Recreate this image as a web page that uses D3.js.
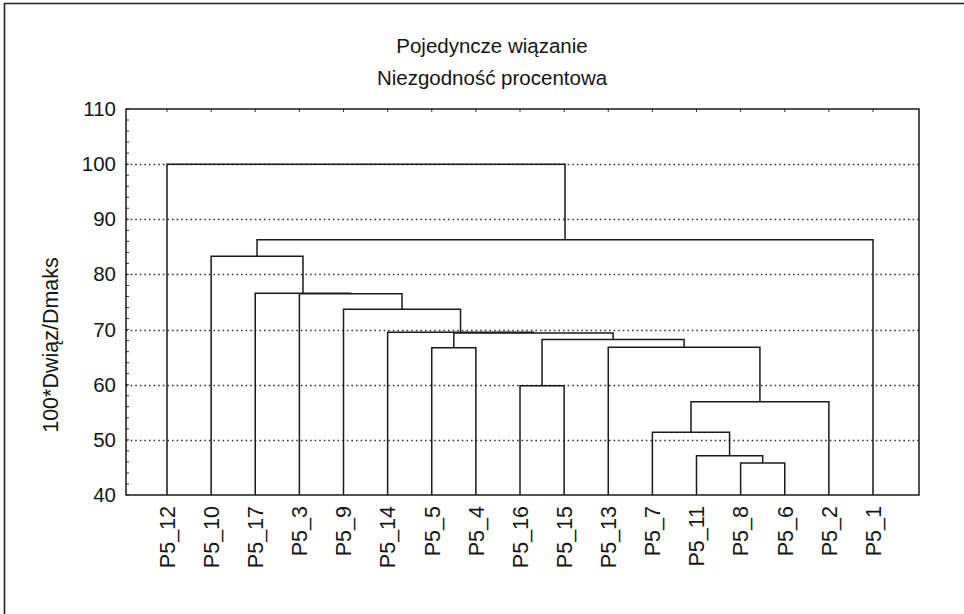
<!DOCTYPE html>
<html>
<head>
<meta charset="utf-8">
<script src="https://cdn.jsdelivr.net/npm/d3@7"></script>
<style>
  html, body { margin: 0; padding: 0; background: #fff; }
  svg { display: block; }
  text { font-family: "Liberation Sans", Arial, sans-serif; fill: #151515; }
</style>
</head>
<body>
<svg id="chart" width="964" height="614"></svg>
<script>
// Leaf order along the horizontal axis
const leaves = ["P5_12", "P5_10", "P5_17", "P5_3", "P5_9", "P5_14", "P5_5", "P5_4",
                "P5_16", "P5_15", "P5_13", "P5_7", "P5_11", "P5_8", "P5_6", "P5_2", "P5_1"];

// Agglomeration steps: [new cluster id, first member, second member, linkage distance]
const merges = [
  ["m1",  "P5_8",  "P5_6",  45.8],
  ["m2",  "P5_11", "m1",    47.1],
  ["m3",  "P5_7",  "m2",    51.4],
  ["m4",  "m3",    "P5_2",  56.9],
  ["m5",  "P5_16", "P5_15", 59.8],
  ["m6",  "P5_5",  "P5_4",  66.7],
  ["m7",  "P5_13", "m4",    66.8],
  ["m8",  "m5",    "m7",    68.2],
  ["m9",  "m6",    "m8",    69.4],
  ["m10", "P5_14", "m9",    69.5],
  ["m11", "P5_9",  "m10",   73.7],
  ["m12", "P5_3",  "m11",   76.5],
  ["m13", "P5_17", "m12",   76.6],
  ["m14", "P5_10", "m13",   83.3],
  ["m15", "m14",   "P5_1",  86.3],
  ["m16", "P5_12", "m15",   100.0]
];

// Value axis
const yDomain = [40, 110];
const yTicks = [40, 50, 60, 70, 80, 90, 100, 110];
const gridValues = [50, 60, 70, 80, 90, 100];

const title1 = "Pojedyncze wiązanie";
const title2 = "Niezgodność procentowa";
const yTitle = "100*Dwiąz/Dmaks";

// Layout
const plot = { left: 126, right: 919, top: 109, bottom: 495 };
const svg = d3.select("#chart");

const x = d3.scalePoint().domain(leaves).range([167, 873]);
const y = d3.scaleLinear().domain(yDomain).range([plot.bottom, plot.top]);

// Page border (top and left edges of the printed frame)
svg.append("line").attr("x1", 4).attr("x2", 964).attr("y1", 3.5).attr("y2", 3.5)
  .attr("stroke", "#222").attr("stroke-width", 1.6);
svg.append("line").attr("x1", 4.5).attr("x2", 4.5).attr("y1", 3).attr("y2", 614)
  .attr("stroke", "#222").attr("stroke-width", 1.6);

// Titles
const cx = 492;
svg.append("text").attr("x", cx).attr("y", 53).attr("text-anchor", "middle")
  .style("font-size", "20.5px").text(title1);
svg.append("text").attr("x", cx).attr("y", 85).attr("text-anchor", "middle")
  .style("font-size", "20.5px").text(title2);

// Dotted grid
svg.append("g").selectAll("line").data(gridValues).join("line")
  .attr("x1", plot.left).attr("x2", plot.right)
  .attr("y1", d => Math.round(y(d)) + 0.5).attr("y2", d => Math.round(y(d)) + 0.5)
  .attr("stroke", "#333").attr("stroke-width", 1.3)
  .attr("stroke-dasharray", "1.6,3");

// Left axis: labels and inward minor ticks
const yAxis = d3.axisLeft(y).tickValues(yTicks).tickSize(0).tickPadding(10);
const gy = svg.append("g").attr("transform", `translate(${plot.left},0)`).call(yAxis);
gy.select(".domain").remove();
gy.selectAll("text").style("font-size", "20.5px").style("font-family", "Liberation Sans, Arial, sans-serif").attr("fill", "#151515");

const minor = d3.range(40, 110.01, 2);
svg.append("g").selectAll("line").data(minor).join("line")
  .attr("x1", plot.left).attr("x2", plot.left + 3)
  .attr("y1", d => y(d)).attr("y2", d => y(d))
  .attr("stroke", "#333").attr("stroke-width", 1);

// Top axis ticks at leaf positions
svg.append("g").selectAll("line").data(leaves).join("line")
  .attr("x1", d => x(d)).attr("x2", d => x(d))
  .attr("y1", plot.top).attr("y2", plot.top + 3)
  .attr("stroke", "#333").attr("stroke-width", 1);

// Y axis title
svg.append("text")
  .attr("transform", `translate(50,345) rotate(-90)`)
  .attr("text-anchor", "middle").attr("dy", "0.35em")
  .style("font-size", "21.5px").text(yTitle);

// Build the cluster tree and position every node
const nodes = new Map();
leaves.forEach(id => nodes.set(id, { id, children: null, h: yDomain[0] }));
merges.forEach(([id, a, b, h]) => nodes.set(id, { id, children: [nodes.get(a), nodes.get(b)], h }));
const root = d3.hierarchy(nodes.get(merges[merges.length - 1][0]), d => d.children);
root.eachAfter(n => {
  n.px = n.children ? d3.mean(n.children, c => c.px) : x(n.data.id);
  n.py = y(n.data.h);
});

// Dendrogram links: elbow from each child up to its parent's level
const links = root.descendants().filter(n => n.children);
svg.append("g").selectAll("path").data(links).join("path")
  .attr("d", n => {
    const [a, b] = n.children;
    return `M${a.px},${a.py}V${n.py}H${b.px}V${b.py}`;
  })
  .attr("fill", "none").attr("stroke", "#1a1a1a").attr("stroke-width", 1.5);

// Plot frame
svg.append("rect")
  .attr("x", plot.left).attr("y", plot.top)
  .attr("width", plot.right - plot.left).attr("height", plot.bottom - plot.top)
  .attr("fill", "none").attr("stroke", "#1a1a1a").attr("stroke-width", 1.5);

// Leaf labels
svg.append("g").selectAll("text").data(leaves).join("text")
  .attr("transform", d => `translate(${x(d)},506) rotate(-90)`)
  .attr("text-anchor", "end").attr("dy", "0.36em")
  .style("font-size", "21.5px").text(d => d);
</script>
</body>
</html>
